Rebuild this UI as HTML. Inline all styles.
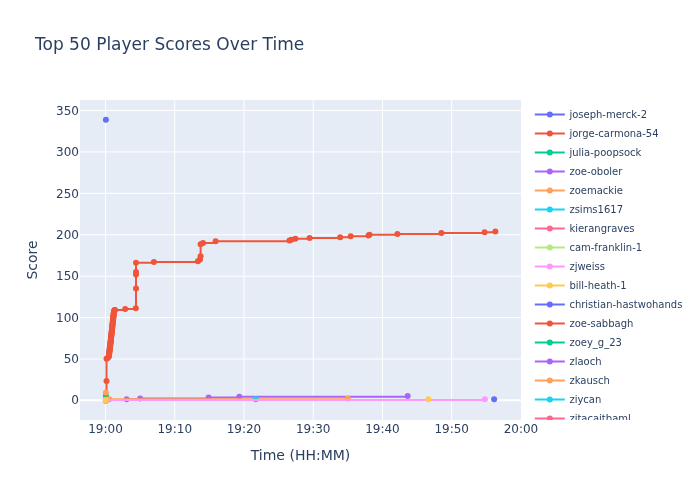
<!DOCTYPE html>
<html lang="en"><head><meta charset="utf-8"><title>Top 50 Player Scores Over Time</title>
<style>html,body{margin:0;padding:0;background:#fff}body{width:700px;height:500px;overflow:hidden}</style></head>
<body>
<svg width="700" height="500" viewBox="0 0 700 500" style="display:block;font-family:'DejaVu Sans','Liberation Sans',sans-serif">
<rect width="700" height="500" fill="#fff"/>
<rect x="80" y="100" width="441" height="320" fill="#E5ECF6"/>
<path d="M174.74,100V420" stroke="#fff" stroke-width="1"/>
<path d="M243.98,100V420" stroke="#fff" stroke-width="1"/>
<path d="M313.22,100V420" stroke="#fff" stroke-width="1"/>
<path d="M382.46,100V420" stroke="#fff" stroke-width="1"/>
<path d="M451.70,100V420" stroke="#fff" stroke-width="1"/>
<path d="M105.50,100V420" stroke="#fff" stroke-width="1"/>
<path d="M80,359.02H521" stroke="#fff" stroke-width="1"/>
<path d="M80,317.60H521" stroke="#fff" stroke-width="1"/>
<path d="M80,276.18H521" stroke="#fff" stroke-width="1"/>
<path d="M80,234.76H521" stroke="#fff" stroke-width="1"/>
<path d="M80,193.34H521" stroke="#fff" stroke-width="1"/>
<path d="M80,151.92H521" stroke="#fff" stroke-width="1"/>
<path d="M80,110.50H521" stroke="#fff" stroke-width="1"/>
<path d="M80,400.15H521" stroke="#fff" stroke-width="2"/>
<clipPath id="pc"><rect x="80" y="100" width="441" height="320"/></clipPath>
<g clip-path="url(#pc)">
<g><circle cx="105.90" cy="119.80" r="3" fill="#636efa"/></g>
<g><path d="M105.90,400.05H106.50V381.04H106.50V358.72H107.50V357.89H108.60V357.06H108.90V356.23H108.99V355.41H109.09V354.58H109.18V353.75H109.27V352.93H109.37V352.10H109.46V351.27H109.55V350.45H109.65V349.62H109.76V348.79H109.86V347.97H109.97V347.14H110.08V346.31H110.18V345.49H110.29V344.66H110.39V343.83H110.50V343.01H110.59V342.18H110.68V341.35H110.77V340.53H110.86V339.70H110.95V338.87H111.04V338.05H111.13V337.22H111.23V336.39H111.32V335.57H111.41V334.74H111.50V333.91H111.59V333.09H111.68V332.26H111.77V331.43H111.86V330.61H111.95V329.78H112.04V328.95H112.13V328.13H112.22V327.30H112.31V326.47H112.40V325.65H112.49V324.82H112.58V323.99H112.67V323.17H112.76V322.34H112.85V321.51H112.94V320.69H113.03V319.86H113.12V319.03H113.21V318.21H113.31V317.38H113.40V316.55H113.49V315.73H113.58V314.90H113.67V314.07H113.76V313.25H113.85V312.42H113.94V311.59H114.20V310.77H114.60V309.94H115.00V309.94H125.20V309.11H135.80V308.29H136.00V288.45H136.00V274.39H136.00V271.91H136.00V262.82H153.90V261.99H197.90V261.16H200.00V259.51H200.60V256.20H200.60V244.22H203.00V242.98H215.60V241.32H289.40V240.50H291.40V239.67H295.40V238.84H309.60V238.02H340.20V237.19H350.70V236.36H368.50V235.54H369.50V234.71H397.40V233.88H441.40V233.06H484.60V232.23H495.40V231.40" fill="none" stroke="#EF553B" stroke-width="2" stroke-linejoin="round"/><circle cx="105.90" cy="400.05" r="3" fill="#EF553B"/><circle cx="106.50" cy="381.04" r="3" fill="#EF553B"/><circle cx="106.50" cy="358.72" r="3" fill="#EF553B"/><circle cx="107.50" cy="357.89" r="3" fill="#EF553B"/><circle cx="108.60" cy="357.06" r="3" fill="#EF553B"/><circle cx="108.90" cy="356.23" r="3" fill="#EF553B"/><circle cx="108.99" cy="355.41" r="3" fill="#EF553B"/><circle cx="109.09" cy="354.58" r="3" fill="#EF553B"/><circle cx="109.18" cy="353.75" r="3" fill="#EF553B"/><circle cx="109.27" cy="352.93" r="3" fill="#EF553B"/><circle cx="109.37" cy="352.10" r="3" fill="#EF553B"/><circle cx="109.46" cy="351.27" r="3" fill="#EF553B"/><circle cx="109.55" cy="350.45" r="3" fill="#EF553B"/><circle cx="109.65" cy="349.62" r="3" fill="#EF553B"/><circle cx="109.76" cy="348.79" r="3" fill="#EF553B"/><circle cx="109.86" cy="347.97" r="3" fill="#EF553B"/><circle cx="109.97" cy="347.14" r="3" fill="#EF553B"/><circle cx="110.08" cy="346.31" r="3" fill="#EF553B"/><circle cx="110.18" cy="345.49" r="3" fill="#EF553B"/><circle cx="110.29" cy="344.66" r="3" fill="#EF553B"/><circle cx="110.39" cy="343.83" r="3" fill="#EF553B"/><circle cx="110.50" cy="343.01" r="3" fill="#EF553B"/><circle cx="110.59" cy="342.18" r="3" fill="#EF553B"/><circle cx="110.68" cy="341.35" r="3" fill="#EF553B"/><circle cx="110.77" cy="340.53" r="3" fill="#EF553B"/><circle cx="110.86" cy="339.70" r="3" fill="#EF553B"/><circle cx="110.95" cy="338.87" r="3" fill="#EF553B"/><circle cx="111.04" cy="338.05" r="3" fill="#EF553B"/><circle cx="111.13" cy="337.22" r="3" fill="#EF553B"/><circle cx="111.23" cy="336.39" r="3" fill="#EF553B"/><circle cx="111.32" cy="335.57" r="3" fill="#EF553B"/><circle cx="111.41" cy="334.74" r="3" fill="#EF553B"/><circle cx="111.50" cy="333.91" r="3" fill="#EF553B"/><circle cx="111.59" cy="333.09" r="3" fill="#EF553B"/><circle cx="111.68" cy="332.26" r="3" fill="#EF553B"/><circle cx="111.77" cy="331.43" r="3" fill="#EF553B"/><circle cx="111.86" cy="330.61" r="3" fill="#EF553B"/><circle cx="111.95" cy="329.78" r="3" fill="#EF553B"/><circle cx="112.04" cy="328.95" r="3" fill="#EF553B"/><circle cx="112.13" cy="328.13" r="3" fill="#EF553B"/><circle cx="112.22" cy="327.30" r="3" fill="#EF553B"/><circle cx="112.31" cy="326.47" r="3" fill="#EF553B"/><circle cx="112.40" cy="325.65" r="3" fill="#EF553B"/><circle cx="112.49" cy="324.82" r="3" fill="#EF553B"/><circle cx="112.58" cy="323.99" r="3" fill="#EF553B"/><circle cx="112.67" cy="323.17" r="3" fill="#EF553B"/><circle cx="112.76" cy="322.34" r="3" fill="#EF553B"/><circle cx="112.85" cy="321.51" r="3" fill="#EF553B"/><circle cx="112.94" cy="320.69" r="3" fill="#EF553B"/><circle cx="113.03" cy="319.86" r="3" fill="#EF553B"/><circle cx="113.12" cy="319.03" r="3" fill="#EF553B"/><circle cx="113.21" cy="318.21" r="3" fill="#EF553B"/><circle cx="113.31" cy="317.38" r="3" fill="#EF553B"/><circle cx="113.40" cy="316.55" r="3" fill="#EF553B"/><circle cx="113.49" cy="315.73" r="3" fill="#EF553B"/><circle cx="113.58" cy="314.90" r="3" fill="#EF553B"/><circle cx="113.67" cy="314.07" r="3" fill="#EF553B"/><circle cx="113.76" cy="313.25" r="3" fill="#EF553B"/><circle cx="113.85" cy="312.42" r="3" fill="#EF553B"/><circle cx="113.94" cy="311.59" r="3" fill="#EF553B"/><circle cx="114.20" cy="310.77" r="3" fill="#EF553B"/><circle cx="114.60" cy="309.94" r="3" fill="#EF553B"/><circle cx="115.00" cy="309.94" r="3" fill="#EF553B"/><circle cx="125.20" cy="309.11" r="3" fill="#EF553B"/><circle cx="135.80" cy="308.29" r="3" fill="#EF553B"/><circle cx="136.00" cy="288.45" r="3" fill="#EF553B"/><circle cx="136.00" cy="274.39" r="3" fill="#EF553B"/><circle cx="136.00" cy="271.91" r="3" fill="#EF553B"/><circle cx="136.00" cy="262.82" r="3" fill="#EF553B"/><circle cx="153.90" cy="261.99" r="3" fill="#EF553B"/><circle cx="197.90" cy="261.16" r="3" fill="#EF553B"/><circle cx="200.00" cy="259.51" r="3" fill="#EF553B"/><circle cx="200.60" cy="256.20" r="3" fill="#EF553B"/><circle cx="200.60" cy="244.22" r="3" fill="#EF553B"/><circle cx="203.00" cy="242.98" r="3" fill="#EF553B"/><circle cx="215.60" cy="241.32" r="3" fill="#EF553B"/><circle cx="289.40" cy="240.50" r="3" fill="#EF553B"/><circle cx="291.40" cy="239.67" r="3" fill="#EF553B"/><circle cx="295.40" cy="238.84" r="3" fill="#EF553B"/><circle cx="309.60" cy="238.02" r="3" fill="#EF553B"/><circle cx="340.20" cy="237.19" r="3" fill="#EF553B"/><circle cx="350.70" cy="236.36" r="3" fill="#EF553B"/><circle cx="368.50" cy="235.54" r="3" fill="#EF553B"/><circle cx="369.50" cy="234.71" r="3" fill="#EF553B"/><circle cx="397.40" cy="233.88" r="3" fill="#EF553B"/><circle cx="441.40" cy="233.06" r="3" fill="#EF553B"/><circle cx="484.60" cy="232.23" r="3" fill="#EF553B"/><circle cx="495.40" cy="231.40" r="3" fill="#EF553B"/></g>
<g><circle cx="105.90" cy="395.67" r="3" fill="#00cc96"/></g>
<g><path d="M105.90,400.05H126.60V399.22H140.10V398.40H208.60V397.57H239.30V396.74H407.70V395.92" fill="none" stroke="#ab63fa" stroke-width="2" stroke-linejoin="round"/><circle cx="105.90" cy="400.05" r="3" fill="#ab63fa"/><circle cx="126.60" cy="399.22" r="3" fill="#ab63fa"/><circle cx="140.10" cy="398.40" r="3" fill="#ab63fa"/><circle cx="208.60" cy="397.57" r="3" fill="#ab63fa"/><circle cx="239.30" cy="396.74" r="3" fill="#ab63fa"/><circle cx="407.70" cy="395.92" r="3" fill="#ab63fa"/></g>
<g><path d="M105.90,400.05H109.40V399.22H347.70V398.40" fill="none" stroke="#FFA15A" stroke-width="2" stroke-linejoin="round"/><circle cx="105.90" cy="400.05" r="3" fill="#FFA15A"/><circle cx="109.40" cy="399.22" r="3" fill="#FFA15A"/><circle cx="347.70" cy="398.40" r="3" fill="#FFA15A"/></g>
<g><circle cx="255.60" cy="399.22" r="3" fill="#19d3f3"/></g>
<g><path d="M105.90,400.05H484.90V399.22" fill="none" stroke="#FF97FF" stroke-width="2" stroke-linejoin="round"/><circle cx="105.90" cy="400.05" r="3" fill="#FF97FF"/><circle cx="484.90" cy="399.22" r="3" fill="#FF97FF"/></g>
<g><circle cx="494.10" cy="399.22" r="3" fill="#636efa"/></g>
<path d="M105.9,400.05V392.61" stroke="#c8764a" stroke-width="1.6"/>
<g><circle cx="105.90" cy="392.61" r="3" fill="#FFA15A"/></g>
<g><circle cx="105.90" cy="400.88" r="3" fill="#FFA15A"/></g>
<g><circle cx="105.80" cy="400.05" r="3" fill="#FECB52"/><circle cx="428.40" cy="399.22" r="3" fill="#FECB52"/></g>
</g>
<text x="105.50" y="433" text-anchor="middle" font-size="12" fill="#2a3f5f">19:00</text>
<text x="174.74" y="433" text-anchor="middle" font-size="12" fill="#2a3f5f">19:10</text>
<text x="243.98" y="433" text-anchor="middle" font-size="12" fill="#2a3f5f">19:20</text>
<text x="313.22" y="433" text-anchor="middle" font-size="12" fill="#2a3f5f">19:30</text>
<text x="382.46" y="433" text-anchor="middle" font-size="12" fill="#2a3f5f">19:40</text>
<text x="451.70" y="433" text-anchor="middle" font-size="12" fill="#2a3f5f">19:50</text>
<text x="520.94" y="433" text-anchor="middle" font-size="12" fill="#2a3f5f">20:00</text>
<text x="79" y="404.30" text-anchor="end" font-size="12" fill="#2a3f5f">0</text>
<text x="79" y="362.97" text-anchor="end" font-size="12" fill="#2a3f5f">50</text>
<text x="79" y="321.63" text-anchor="end" font-size="12" fill="#2a3f5f">100</text>
<text x="79" y="280.30" text-anchor="end" font-size="12" fill="#2a3f5f">150</text>
<text x="79" y="238.96" text-anchor="end" font-size="12" fill="#2a3f5f">200</text>
<text x="79" y="197.62" text-anchor="end" font-size="12" fill="#2a3f5f">250</text>
<text x="79" y="156.29" text-anchor="end" font-size="12" fill="#2a3f5f">300</text>
<text x="79" y="114.96" text-anchor="end" font-size="12" fill="#2a3f5f">350</text>
<text x="300.5" y="460" text-anchor="middle" font-size="14" fill="#2a3f5f">Time (HH:MM)</text>
<text transform="rotate(-90,37,260)" x="37" y="260" text-anchor="middle" font-size="14" fill="#2a3f5f">Score</text>
<text x="35" y="50" font-size="17" fill="#2a3f5f">Top 50 Player Scores Over Time</text>
<clipPath id="lc"><rect x="530" y="100" width="170" height="320"/></clipPath>
<g clip-path="url(#lc)">
<path d="M534.82,114.5H564.82" stroke="#636efa" stroke-width="2"/><circle cx="549.82" cy="114.5" r="3" fill="#636efa"/>
<text x="569.4" y="118.00" font-size="10" fill="#2a3f5f">joseph-merck-2</text>
<path d="M534.82,133.5H564.82" stroke="#EF553B" stroke-width="2"/><circle cx="549.82" cy="133.5" r="3" fill="#EF553B"/>
<text x="569.4" y="137.00" font-size="10" fill="#2a3f5f">jorge-carmona-54</text>
<path d="M534.82,152.5H564.82" stroke="#00cc96" stroke-width="2"/><circle cx="549.82" cy="152.5" r="3" fill="#00cc96"/>
<text x="569.4" y="156.00" font-size="10" fill="#2a3f5f">julia-poopsock</text>
<path d="M534.82,171.5H564.82" stroke="#ab63fa" stroke-width="2"/><circle cx="549.82" cy="171.5" r="3" fill="#ab63fa"/>
<text x="569.4" y="175.00" font-size="10" fill="#2a3f5f">zoe-oboler</text>
<path d="M534.82,190.5H564.82" stroke="#FFA15A" stroke-width="2"/><circle cx="549.82" cy="190.5" r="3" fill="#FFA15A"/>
<text x="569.4" y="194.00" font-size="10" fill="#2a3f5f">zoemackie</text>
<path d="M534.82,209.5H564.82" stroke="#19d3f3" stroke-width="2"/><circle cx="549.82" cy="209.5" r="3" fill="#19d3f3"/>
<text x="569.4" y="213.00" font-size="10" fill="#2a3f5f">zsims1617</text>
<path d="M534.82,228.5H564.82" stroke="#FF6692" stroke-width="2"/><circle cx="549.82" cy="228.5" r="3" fill="#FF6692"/>
<text x="569.4" y="232.00" font-size="10" fill="#2a3f5f">kierangraves</text>
<path d="M534.82,247.5H564.82" stroke="#B6E880" stroke-width="2"/><circle cx="549.82" cy="247.5" r="3" fill="#B6E880"/>
<text x="569.4" y="251.00" font-size="10" fill="#2a3f5f">cam-franklin-1</text>
<path d="M534.82,266.5H564.82" stroke="#FF97FF" stroke-width="2"/><circle cx="549.82" cy="266.5" r="3" fill="#FF97FF"/>
<text x="569.4" y="270.00" font-size="10" fill="#2a3f5f">zjweiss</text>
<path d="M534.82,285.5H564.82" stroke="#FECB52" stroke-width="2"/><circle cx="549.82" cy="285.5" r="3" fill="#FECB52"/>
<text x="569.4" y="289.00" font-size="10" fill="#2a3f5f">bill-heath-1</text>
<path d="M534.82,304.5H564.82" stroke="#636efa" stroke-width="2"/><circle cx="549.82" cy="304.5" r="3" fill="#636efa"/>
<text x="569.4" y="308.00" font-size="10" fill="#2a3f5f">christian-hastwohands</text>
<path d="M534.82,323.5H564.82" stroke="#EF553B" stroke-width="2"/><circle cx="549.82" cy="323.5" r="3" fill="#EF553B"/>
<text x="569.4" y="327.00" font-size="10" fill="#2a3f5f">zoe-sabbagh</text>
<path d="M534.82,342.5H564.82" stroke="#00cc96" stroke-width="2"/><circle cx="549.82" cy="342.5" r="3" fill="#00cc96"/>
<text x="569.4" y="346.00" font-size="10" fill="#2a3f5f">zoey_g_23</text>
<path d="M534.82,361.5H564.82" stroke="#ab63fa" stroke-width="2"/><circle cx="549.82" cy="361.5" r="3" fill="#ab63fa"/>
<text x="569.4" y="365.00" font-size="10" fill="#2a3f5f">zlaoch</text>
<path d="M534.82,380.5H564.82" stroke="#FFA15A" stroke-width="2"/><circle cx="549.82" cy="380.5" r="3" fill="#FFA15A"/>
<text x="569.4" y="384.00" font-size="10" fill="#2a3f5f">zkausch</text>
<path d="M534.82,399.5H564.82" stroke="#19d3f3" stroke-width="2"/><circle cx="549.82" cy="399.5" r="3" fill="#19d3f3"/>
<text x="569.4" y="403.00" font-size="10" fill="#2a3f5f">ziycan</text>
<path d="M534.82,418.5H564.82" stroke="#FF6692" stroke-width="2"/><circle cx="549.82" cy="418.5" r="3" fill="#FF6692"/>
<text x="569.4" y="422.00" font-size="10" fill="#2a3f5f">zitacaitbaml</text>
</g>
</svg>
</body></html>
